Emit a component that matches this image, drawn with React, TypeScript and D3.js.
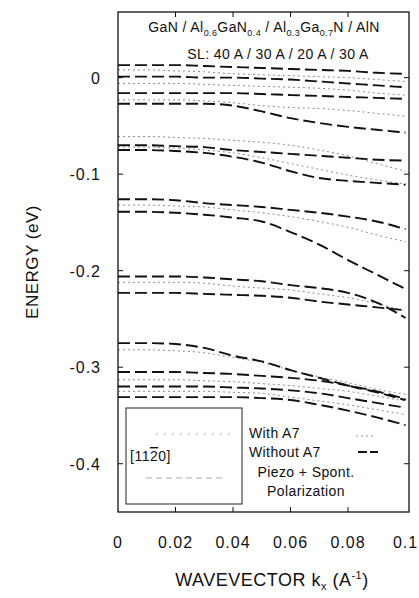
import React from "react";
import * as d3 from "d3";

// wavevector grid (1/A)
const K = [0, 0.01, 0.02, 0.03, 0.04, 0.05, 0.06, 0.07, 0.08, 0.09, 0.1];

// Without A7 (heavy dashed) bands, energy in eV
const w1 = [0.013, 0.013, 0.013, 0.012, 0.011, 0.01, 0.009, 0.008, 0.007, 0.005, 0.004];
const w2 = [0.001, 0.001, 0.001, 0.0, 0.0, -0.001, -0.002, -0.004, -0.006, -0.008, -0.01];
const w3 = [-0.016, -0.016, -0.016, -0.016, -0.016, -0.017, -0.018, -0.019, -0.02, -0.021, -0.022];
const w4 = [-0.027, -0.027, -0.027, -0.027, -0.029, -0.035, -0.042, -0.047, -0.051, -0.054, -0.057];
const w5 = [-0.07, -0.07, -0.071, -0.072, -0.075, -0.077, -0.079, -0.081, -0.083, -0.085, -0.086];
const w6 = [-0.075, -0.075, -0.076, -0.078, -0.082, -0.088, -0.097, -0.104, -0.107, -0.109, -0.111];
const w7 = [-0.126, -0.126, -0.127, -0.13, -0.132, -0.134, -0.137, -0.14, -0.144, -0.149, -0.157];
const w8 = [-0.139, -0.139, -0.14, -0.142, -0.145, -0.149, -0.16, -0.173, -0.189, -0.204, -0.219];
const w9 = [-0.206, -0.206, -0.206, -0.207, -0.209, -0.211, -0.215, -0.218, -0.223, -0.233, -0.249];
const w10 = [-0.223, -0.223, -0.223, -0.224, -0.225, -0.226, -0.228, -0.232, -0.235, -0.238, -0.241];
const w11 = [-0.275, -0.275, -0.276, -0.28, -0.288, -0.294, -0.303, -0.311, -0.319, -0.326, -0.334];
const w12 = [-0.305, -0.305, -0.305, -0.306, -0.307, -0.309, -0.311, -0.314, -0.319, -0.325, -0.333];
const w13 = [-0.32, -0.32, -0.32, -0.32, -0.321, -0.322, -0.324, -0.327, -0.332, -0.337, -0.342];
const w14 = [-0.331, -0.331, -0.331, -0.331, -0.331, -0.332, -0.334, -0.339, -0.345, -0.352, -0.36];

// With A7 (faint dotted) bands, energy in eV
const a1 = [0.008, 0.008, 0.007, 0.006, 0.004, 0.003, 0.002, 0.001, 0.0, -0.002, -0.004];
const a2 = [-0.006, -0.006, -0.006, -0.007, -0.008, -0.009, -0.01, -0.011, -0.013, -0.016, -0.018];
const a3 = [-0.023, -0.023, -0.023, -0.024, -0.026, -0.029, -0.031, -0.032, -0.034, -0.037, -0.04];
const a4 = [-0.061, -0.061, -0.062, -0.063, -0.065, -0.067, -0.07, -0.075, -0.081, -0.089, -0.097];
const a5 = [-0.072, -0.072, -0.073, -0.075, -0.078, -0.083, -0.089, -0.095, -0.101, -0.106, -0.11];
const a6 = [-0.132, -0.132, -0.133, -0.134, -0.137, -0.14, -0.144, -0.149, -0.155, -0.163, -0.17];
const a7 = [-0.212, -0.212, -0.212, -0.213, -0.216, -0.218, -0.22, -0.224, -0.228, -0.234, -0.242];
const a8 = [-0.282, -0.282, -0.283, -0.285, -0.29, -0.295, -0.303, -0.31, -0.316, -0.323, -0.328];
const a9 = [-0.313, -0.313, -0.313, -0.314, -0.315, -0.317, -0.319, -0.322, -0.325, -0.33, -0.335];
const a10 = [-0.325, -0.325, -0.325, -0.325, -0.326, -0.327, -0.331, -0.335, -0.339, -0.344, -0.349];

const withoutA7 = [w1, w2, w3, w4, w5, w6, w7, w8, w9, w10, w11, w12, w13, w14];
const withA7 = [a1, a2, a3, a4, a5, a6, a7, a8, a9, a10];

const xTicks = [0, 0.02, 0.04, 0.06, 0.08, 0.1];
const xTickLabels = ["0", "0.02", "0.04", "0.06", "0.08", "0.1"];
const yTicks = [0, -0.1, -0.2, -0.3, -0.4];
const yTickLabels = ["0", "-0.1", "-0.2", "-0.3", "-0.4"];

const FONT = "'Liberation Sans', Arial, Helvetica, sans-serif";

export default function App() {
  const W = 419;
  const H = 598;
  const left = 118, right = 409, top = 12, bottom = 512;
  const x = d3.scaleLinear().domain([0, 0.1012]).range([left, right]);
  const y = d3.scaleLinear().domain([-0.45, 0.068]).range([bottom, top]);
  const line = d3
    .line<number>()
    .x((_, i) => x(K[i]))
    .y((d) => y(d))
    .curve(d3.curveMonotoneX);

  const inset = { x0: 126, y0: 408, x1: 242, y1: 504 };

  return (
    <svg
      width={W}
      height={H}
      viewBox={`0 0 ${W} ${H}`}
      style={{ position: "absolute", left: 0, top: 0, background: "#fff" }}
      fontFamily={FONT}
    >
      <rect x={0} y={0} width={W} height={H} fill="#fff" />
      <defs>
        <clipPath id="plotclip">
          <rect x={left} y={top} width={right - left} height={bottom - top} />
        </clipPath>
      </defs>

      {/* bands */}
      <g clipPath="url(#plotclip)" fill="none">
        {withA7.map((b, i) => (
          <path key={"a" + i} d={line(b) || ""} stroke="#8c8c8c" strokeWidth={1} strokeDasharray="2 3" />
        ))}
        {withoutA7.map((b, i) => (
          <path key={"w" + i} d={line(b) || ""} stroke="#111" strokeWidth={1.9} strokeDasharray="12 5" />
        ))}
      </g>

      {/* inset box */}
      <rect
        x={inset.x0}
        y={inset.y0}
        width={inset.x1 - inset.x0}
        height={inset.y1 - inset.y0}
        fill="#fff"
        stroke="#222"
        strokeWidth={1}
      />
      <path d={`M${inset.x0 + 30},${inset.y0 + 26} H${inset.x0 + 105}`} stroke="#aaa" strokeWidth={1} strokeDasharray="2 6" fill="none" />
      <path d={`M${inset.x0 + 20},${inset.y0 + 70} H${inset.x0 + 100}`} stroke="#aaa" strokeWidth={1} strokeDasharray="6 4" fill="none" />
      <text x={inset.x0 + 4} y={inset.y0 + 53} fontSize={14} fill="#111" letterSpacing={0.5}>
        [11
        <tspan style={{ textDecoration: "overline" }}>2</tspan>
        0]
      </text>

      {/* legend */}
      <g fontSize={14} fill="#111">
        <text x={249} y={438} letterSpacing={0.4}>With A7</text>
        <text x={249} y={457} letterSpacing={0.4}>Without A7</text>
        <text x={306} y={477} textAnchor="middle" letterSpacing={0.4}>Piezo + Spont.</text>
        <text x={306} y={496} textAnchor="middle" letterSpacing={0.4}>Polarization</text>
      </g>
      <line x1={356} x2={374} y1={436} y2={436} stroke="#8c8c8c" strokeWidth={1} strokeDasharray="2 3" />
      <line x1={358} x2={378} y1={452} y2={452} stroke="#111" strokeWidth={1.8} strokeDasharray="9 3" />

      {/* title */}
      <text x={264} y={32} textAnchor="middle" fontSize={14} fill="#111" letterSpacing={0.4}>
        GaN / Al<tspan fontSize={9} dy={4}>0.6</tspan>
        <tspan dy={-4}>GaN</tspan>
        <tspan fontSize={9} dy={4}>0.4</tspan>
        <tspan dy={-4}> / Al</tspan>
        <tspan fontSize={9} dy={4}>0.3</tspan>
        <tspan dy={-4}>Ga</tspan>
        <tspan fontSize={9} dy={4}>0.7</tspan>
        <tspan dy={-4}>N / AlN</tspan>
      </text>
      <text x={278} y={59} textAnchor="middle" fontSize={14} fill="#111" letterSpacing={0.4}>
        SL: 40 A / 30 A / 20 A / 30 A
      </text>

      {/* frame */}
      <rect x={left} y={top} width={right - left} height={bottom - top} fill="none" stroke="#111" strokeWidth={1.3} />

      {/* ticks */}
      <g stroke="#111" strokeWidth={1}>
        {xTicks.slice(1, -1).map((t) => (
          <g key={"xt" + t}>
            <line x1={x(t)} x2={x(t)} y1={bottom} y2={bottom - 5} />
            <line x1={x(t)} x2={x(t)} y1={top} y2={top + 5} />
          </g>
        ))}
        {yTicks.map((t) => (
          <g key={"yt" + t}>
            <line x1={left} x2={left + 5} y1={y(t)} y2={y(t)} />
            <line x1={right} x2={right - 5} y1={y(t)} y2={y(t)} />
          </g>
        ))}
      </g>

      {/* tick labels */}
      <g fontSize={16} fill="#111">
        {xTicks.map((t, i) => (
          <text key={"xl" + t} x={x(t)} y={548} textAnchor="middle" letterSpacing={1}>
            {xTickLabels[i]}
          </text>
        ))}
        {yTicks.map((t, i) => (
          <text key={"yl" + t} x={101} y={y(t) + 6} textAnchor="end" letterSpacing={1}>
            {yTickLabels[i]}
          </text>
        ))}
      </g>

      {/* axis titles */}
      <text x={272} y={586} textAnchor="middle" fontSize={18} fill="#111" letterSpacing={0.5}>
        WAVEVECTOR k<tspan fontSize={11} dy={4}>x</tspan>
        <tspan dy={-4}> (A</tspan>
        <tspan fontSize={11} dy={-7}>-1</tspan>
        <tspan dy={7}>)</tspan>
      </text>
      <text
        transform={`translate(38, ${(top + bottom) / 2}) rotate(-90)`}
        textAnchor="middle"
        fontSize={17}
        fill="#111"
        letterSpacing={0.5}
      >
        ENERGY (eV)
      </text>
    </svg>
  );
}
